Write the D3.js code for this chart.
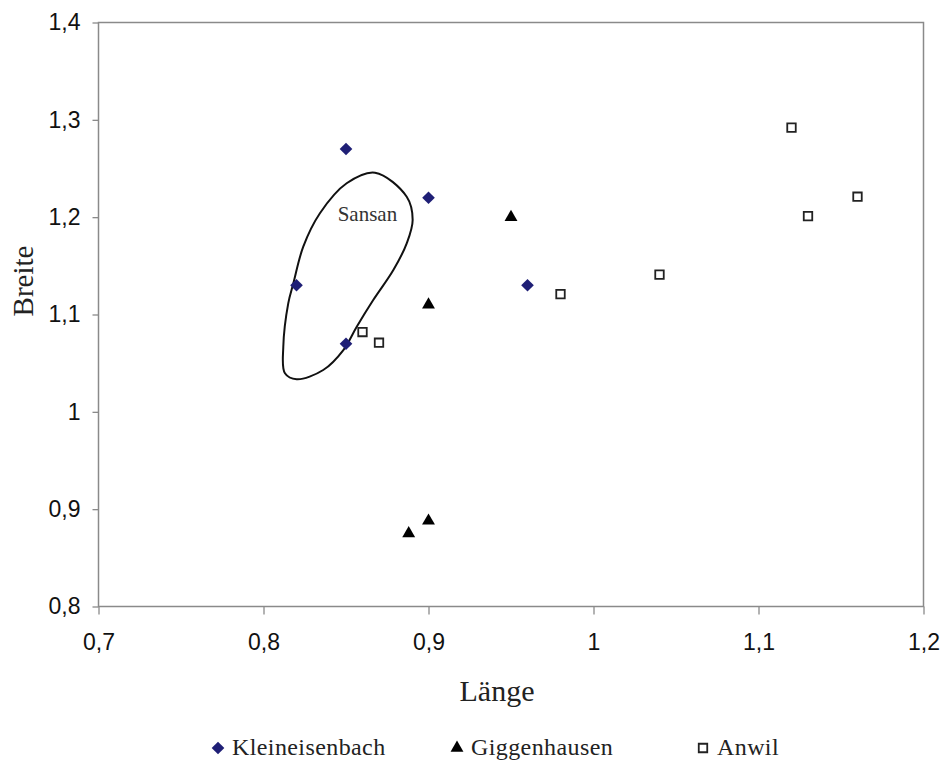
<!DOCTYPE html>
<html>
<head>
<meta charset="utf-8">
<script src="https://cdn.jsdelivr.net/npm/d3@7"></script>
<style>
body{margin:0;background:#fff;}
</style>
</head>
<body>
<div id="chart"></div>
<script>
let xTicks = [0.7, 0.8, 0.9, 1.0, 1.1, 1.2]
let yTicks = [0.8, 0.9, 1.0, 1.1, 1.2, 1.3, 1.4]

// [Länge, Breite]
let kleineisenbach = [[0.85, 1.27], [0.90, 1.22], [0.82, 1.13], [0.85, 1.07], [0.96, 1.13]]
let giggenhausen = [[0.95, 1.20], [0.90, 1.11], [0.888, 0.875], [0.90, 0.888]]
let anwil = [[0.86, 1.082], [0.87, 1.071], [0.98, 1.121], [1.04, 1.141], [1.12, 1.292], [1.13, 1.201], [1.16, 1.221]]

// outline of the Sansan field
let sansanOutline = [
    [0.8676, 1.2457], [0.8868, 1.2210], [0.8904, 1.1971], [0.8868, 1.1731],
    [0.8787, 1.1457], [0.8665, 1.1149], [0.8565, 1.0875], [0.8484, 1.0635],
    [0.8362, 1.0430], [0.8201, 1.0334], [0.8130, 1.0396], [0.8120, 1.0669],
    [0.8150, 1.1115], [0.8181, 1.1320], [0.8241, 1.1697], [0.8342, 1.2040],
    [0.8504, 1.2348]
]
let sansanLabel = {text: "Sansan", x: 0.863, y: 1.196}

let seriesNames = ["Kleineisenbach", "Giggenhausen", "Anwil"]

function chartConfig(){
    let width = 943
    let height = 761
    let margin = {top: 22.5, bottom: 154.5, left: 98.5, right: 19.5}
    let bodyWidth = width - margin.left - margin.right
    let bodyHeight = height - margin.top - margin.bottom
    let svg = d3.select("#chart")
                .append("svg")
                .attr("width", width)
                .attr("height", height)
    let container = svg.append("g")
                .attr("transform", "translate(" + [margin.left, margin.top] + ")")
    return {width, height, margin, bodyWidth, bodyHeight, svg, container}
}

function chartScales(config){
    let {bodyWidth, bodyHeight} = config
    let xScale = d3.scaleLinear()
                .domain([0.7, 1.2])
                .range([0, bodyWidth])
    let yScale = d3.scaleLinear()
                .domain([0.8, 1.4])
                .range([bodyHeight, 0])
    return {xScale, yScale}
}

let locale = d3.formatLocale({decimal: ",", thousands: ".", grouping: [3], currency: ["", " €"]})
let fmt = locale.format("~g")

let markers = {
    "Kleineisenbach": {type: d3.symbolSquare, size: 80, rotate: 45, fill: "#1f1f76", stroke: "none"},
    "Giggenhausen": {type: d3.symbolTriangle, size: 72, rotate: 0, fill: "#000", stroke: "none"},
    "Anwil": {type: d3.symbolSquare, size: 72, rotate: 0, fill: "#fff", stroke: "#222"}
}

function drawMarker(g, name, x, y){
    let m = markers[name]
    g.append("path")
        .attr("d", d3.symbol().type(m.type).size(m.size)())
        .attr("transform", "translate(" + [x, y] + ") rotate(" + m.rotate + ")")
        .style("fill", m.fill)
        .style("stroke", m.stroke)
        .style("stroke-width", 1.8)
}

function drawChart(config, scales){
    let {container, bodyWidth, bodyHeight} = config
    let {xScale, yScale} = scales
    let axisColor = "#8a8a8a"

    let axisX = d3.axisBottom(xScale)
                .tickValues(xTicks)
                .tickSize(8)
                .tickPadding(19)
                .tickFormat(fmt)
    let gx = container.append("g")
        .attr("transform", "translate(0," + bodyHeight + ")")
        .call(axisX)
    let axisY = d3.axisLeft(yScale)
                .tickValues(yTicks)
                .tickSize(6)
                .tickPadding(12)
                .tickFormat(fmt)
    let gy = container.append("g")
        .call(axisY)

    ;[gx, gy].forEach(g => {
        g.select(".domain").remove()
        g.selectAll(".tick line").style("stroke", axisColor).style("stroke-width", 1.3)
        g.selectAll("text")
            .style("font-family", "'Liberation Sans', Arial, sans-serif")
            .style("font-size", "23px")
            .style("fill", "#111")
    })

    // plot frame
    container.append("rect")
        .attr("x", 0)
        .attr("y", 0)
        .attr("width", bodyWidth)
        .attr("height", bodyHeight)
        .style("fill", "none")
        .style("stroke", axisColor)
        .style("stroke-width", 1.5)

    // Sansan outline
    let line = d3.line()
                .x(d => xScale(d[0]))
                .y(d => yScale(d[1]))
                .curve(d3.curveCatmullRomClosed)
    container.append("path")
        .attr("d", line(sansanOutline))
        .style("fill", "none")
        .style("stroke", "#111")
        .style("stroke-width", 2)
    container.append("text")
        .attr("x", xScale(sansanLabel.x))
        .attr("y", yScale(sansanLabel.y))
        .attr("text-anchor", "middle")
        .style("font-family", "'Liberation Serif', 'Times New Roman', serif")
        .style("font-size", "21px")
        .style("fill", "#333")
        .text(sansanLabel.text)

    let series = [kleineisenbach, giggenhausen, anwil]
    series.forEach((data, i) => {
        let g = container.append("g")
        data.forEach(d => drawMarker(g, seriesNames[i], xScale(d[0]), yScale(d[1])))
    })
}

function drawLabels(config){
    let {svg} = config
    let serif = "'Liberation Serif', 'Times New Roman', serif"

    svg.append("text")
        .attr("x", 497)
        .attr("y", 701)
        .attr("text-anchor", "middle")
        .style("font-family", serif)
        .style("font-size", "30px")
        .style("fill", "#222")
        .text("Länge")

    svg.append("text")
        .attr("transform", "translate(33,281) rotate(-90)")
        .attr("text-anchor", "middle")
        .style("font-family", serif)
        .style("font-size", "29px")
        .style("fill", "#222")
        .text("Breite")

    let legendX = [218, 457, 703]
    let legend = svg.append("g")
    seriesNames.forEach((name, i) => {
        drawMarker(legend, name, legendX[i], 748)
        legend.append("text")
            .attr("x", legendX[i] + 14)
            .attr("y", 755)
            .style("font-family", serif)
            .style("font-size", "24px")
            .style("letter-spacing", "0.4px")
            .style("fill", "#222")
            .text(name)
    })
}

let config = chartConfig()
let scales = chartScales(config)
drawChart(config, scales)
drawLabels(config)
</script>
</body>
</html>
